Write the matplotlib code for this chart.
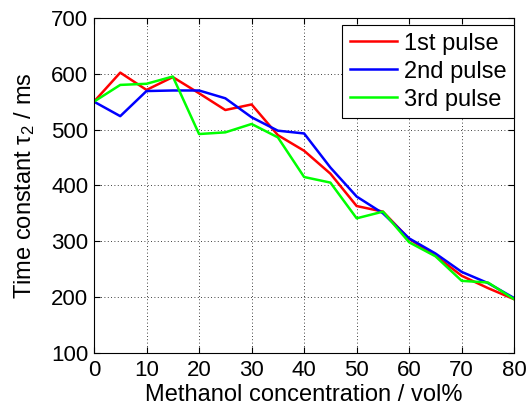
import matplotlib
matplotlib.use("Agg")
import matplotlib.pyplot as plt

# concentrations (vol%)
conc = [0, 5, 10, 15, 20, 25, 30, 35, 40, 45, 50, 55, 60, 65, 70, 75, 80]

# time constants tau2 (ms) for each pulse
pulse1 = [550, 602, 571, 594, 565, 535, 545, 490, 462, 421, 363, 353, 304, 274, 238, 216, 196]
pulse2 = [550, 524, 569, 570, 570, 556, 522, 498, 493, 432, 380, 350, 305, 278, 245, 225, 198]
pulse3 = [550, 580, 582, 595, 492, 495, 510, 486, 415, 405, 341, 353, 298, 273, 229, 226, 196]

labels = ['1st pulse', '2nd pulse', '3rd pulse']
colors = ['#ff0000', '#0000ff', '#00ff00']

plt.rcParams['font.family'] = ['Liberation Sans', 'DejaVu Sans']

fig = plt.figure(figsize=(5.28, 4.07), dpi=100)
ax = fig.add_axes([0.178, 0.133, 0.796, 0.823])

for ys, lab, c in zip([pulse1, pulse2, pulse3], labels, colors):
    ax.plot(conc, ys, color=c, lw=1.8, label=lab)

ax.set_xlim(0, 80)
ax.set_ylim(100, 700)
ax.set_xticks(range(0, 81, 10))
ax.set_yticks(range(100, 701, 100))
ax.grid(True, color='black', linestyle=(0, (1, 3)), linewidth=0.6)
ax.tick_params(direction='in', top=True, right=True, labelsize=16, length=4)
ax.tick_params(axis='x', pad=5)
ax.tick_params(axis='y', pad=4)
for s in ax.spines.values():
    s.set_linewidth(0.8)

ax.set_xlabel('Methanol concentration / vol%', fontsize=17, labelpad=2)
ax.set_ylabel(r'Time constant $\mathregular{\tau_2}$ / ms', fontsize=17, labelpad=10)

leg = ax.legend(loc='upper right', bbox_to_anchor=(1.0, 0.979), fontsize=17,
                frameon=True, fancybox=False, edgecolor='black', framealpha=1,
                borderpad=0.33, labelspacing=0.25, handlelength=2.0,
                handletextpad=0.3, borderaxespad=0)
leg.get_frame().set_linewidth(0.8)

fig.savefig('out.png', dpi=100)
